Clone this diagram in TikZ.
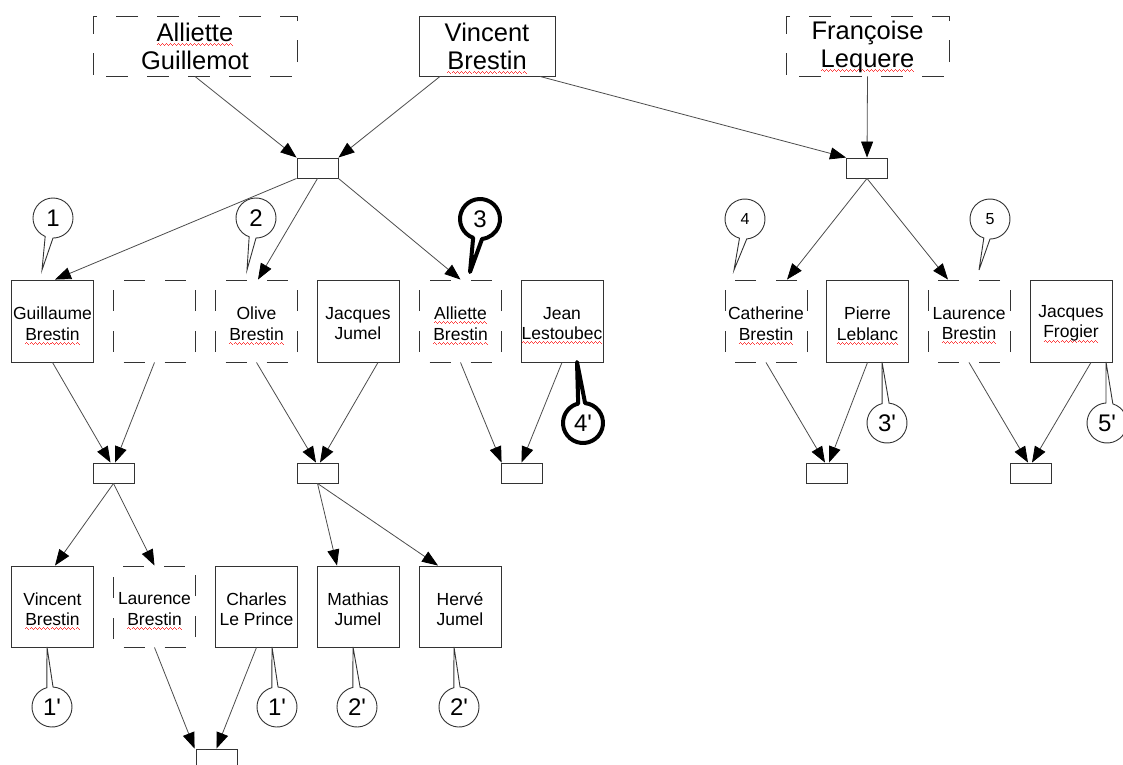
\documentclass[tikz,border=0pt]{standalone}
\usepackage{fontspec}
\setmainfont{Liberation Sans}
\newfontfamily\cofont{Liberation Sans}
\usetikzlibrary{arrows.meta,calc}
\newsavebox\wavebox
\newsavebox\sqwbox
\newcommand\sqw[1]{\sbox\sqwbox{#1}\rlap{\raisebox{-3.5pt}[0pt][0pt]{\hbox to \wd\sqwbox{\xleaders\copy\wavebox\hfil}}}\usebox\sqwbox}
\newcommand\calloutshape[6]{%
  \draw[#1] (#3) -- ($(#2)+(#4:20)$) arc[start angle=#4,end angle=#5,radius=20] -- cycle;
  \node[inner sep=0pt] at (#2) {#6};}
\begin{document}
\sbox\wavebox{\color{red!75}\rule[0pt]{1pt}{0.8pt}\rule[0.9pt]{1pt}{0.8pt}\rule[0pt]{1pt}{0.8pt}\rule[-0.9pt]{1pt}{0.8pt}}%
\begin{tikzpicture}[x=1pt,y=-1pt,
  ptext/.style={align=center,inner sep=0pt,font=\fontsize{17.5}{20.5}\selectfont,yshift=-2.5pt},
  ttext/.style={align=center,inner sep=0pt,font=\fontsize{25.5}{28}\selectfont,yshift=-0.5pt},
  person/.style={draw=black!80,line width=0.9pt,minimum width=82pt,minimum height=82pt,inner sep=0pt,
    label={[ptext]center:{#1}}},
  person/.default={},
  dperson/.style={person={#1},dash pattern=on 21pt off 20pt,dash phase=31pt},
  dperson/.default={},
  topbox/.style={draw=black!80,line width=0.9pt,minimum height=60pt,inner sep=0pt,
    label={[ttext]center:{#1}}},
  dtopbox/.style={topbox={#1},dash pattern=on 22pt off 19pt,dash phase=28pt},
  union/.style={draw=black!80,line width=0.9pt,minimum width=41pt,minimum height=20pt,inner sep=0pt},
  link/.style={draw=black!70,line width=0.8pt,-{Triangle[length=16pt,width=12pt,black]}},
  thin/.style={draw=black!80,line width=0.9pt,fill=white},
  thick/.style={draw=black,line width=4pt,fill=white,line join=round},
]
\useasboundingbox (0,0) rectangle (1123,764);

% top row
\node[dtopbox={\sqw{Alliette}\\Guillemot},minimum width=204pt] (ag) at (195,46) {};
\node[topbox={Vincent\\\sqw{Brestin}},minimum width=136pt] (vb) at (487,46) {};
\node[dtopbox={Françoise\\\sqw{Lequere}},minimum width=163pt] (fl) at (867.5,46) {};

% unions
\node[union] (u1) at (317.5,168) {};
\node[union] (u2) at (867,168) {};
\node[union] (u3) at (113.5,473) {};
\node[union] (u4) at (317.5,473) {};
\node[union] (u5) at (521.5,473) {};
\node[union] (u6) at (827,473) {};
\node[union] (u7) at (1030.5,473) {};
\node[union] (u8) at (216.5,759) {};

% row 2
\node[person={Guillaume\\\sqw{Brestin}}] (gb) at (52.5,321) {};
\node[dperson] (emp) at (154.5,321) {};
\node[dperson={Olive\\\sqw{Brestin}}] (ob) at (256.5,321) {};
\node[person={Jacques\\Jumel}] (jj) at (358,321) {};
\node[dperson={\sqw{Alliette}\\\sqw{Brestin}}] (ab) at (460.5,321) {};
\node[person={Jean\\\sqw{Lestoubec}}] (jl) at (562,321) {};
\node[dperson={Catherine\\\sqw{Brestin}}] (cb) at (766,321) {};
\node[person={Pierre\\\sqw{Leblanc}}] (pl) at (867.5,321) {};
\node[dperson={Laurence\\\sqw{Brestin}}] (lb) at (969,321) {};
\node[person={Jacques\\\sqw{Frogier}}] (jf) at (1071,321) {};

% row 4
\node[person={Vincent\\\sqw{Brestin}},minimum height=81pt] (vb2) at (52.5,606.5) {};
\node[dperson={Laurence\\\sqw{Brestin}},minimum height=81pt] (lb2) at (154.5,606.5) {};
\node[person={Charles\\Le Prince},minimum height=81pt] (clp) at (256.5,606.5) {};
\node[person={Mathias\\Jumel},minimum height=81pt] (mj) at (358,606.5) {};
\node[person={Hervé\\Jumel},minimum height=81pt] (hj) at (460,606.5) {};

% links
\draw[link] (ag.south) -- (u1.north west);
\draw[link] ([xshift=-47pt]vb.south) -- (u1.north east);
\draw[link] ([xshift=53pt]vb.south) -- (u2.north west);
\draw[link] (fl.south) -- (u2.north);
\draw[link] (u1.south west) -- ([xshift=2.5pt]gb.north);
\draw[link] (u1.south) -- ([xshift=1.5pt]ob.north);
\draw[link] (u1.south east) -- (ab.north);
\draw[link] (u2.south) -- ([xshift=21pt]cb.north);
\draw[link] (u2.south) -- ([xshift=-21pt]lb.north);
\draw[link] (gb.south) -- ([xshift=-3pt]u3.north);
\draw[link] (emp.south) -- ([xshift=1.5pt]u3.north);
\draw[link] (ob.south) -- ([xshift=-1.5pt]u4.north);
\draw[link] ([xshift=20pt]jj.south) -- ([xshift=2.5pt]u4.north);
\draw[link] (ab.south) -- ([xshift=1pt]u5.north west);
\draw[link] (jl.south) -- (u5.north);
\draw[link] (cb.south) -- ([xshift=-2pt]u6.north);
\draw[link] (pl.south) -- ([xshift=2pt]u6.north);
\draw[link] (lb.south) -- ([xshift=-2.5pt]u7.north);
\draw[link] ([xshift=20pt]jf.south) -- ([xshift=1.5pt]u7.north);
\draw[link] (u3.south) -- ([xshift=2.5pt]vb2.north);
\draw[link] (u3.south) -- (lb2.north);
\draw[link] (u4.south) -- ([xshift=-21pt]mj.north);
\draw[link] (u4.south) -- ([xshift=-22pt]hj.north);
\draw[link] (lb2.south) -- ([xshift=-1pt]u8.north west);
\draw[link] (clp.south) -- (u8.north);

% callout centres
\coordinate (k1) at (53,218);
\coordinate (k2) at (256,218);
\coordinate (k3) at (480,219);
\coordinate (k4) at (745,219);
\coordinate (k5) at (990,219);
\coordinate (k4p) at (583,423);
\coordinate (k3p) at (887,423);
\coordinate (k5p) at (1107,423);
\coordinate (k1a) at (52,707);
\coordinate (k1b) at (277,707);
\coordinate (k2a) at (357,707);
\coordinate (k2b) at (459,707);

\calloutshape{thin}{k1}{42,270}{113}{450}{\cofont\fontsize{24}{24}\selectfont 1}
\calloutshape{thin}{k2}{247,270}{110}{450}{\cofont\fontsize{24}{24}\selectfont 2}
\calloutshape{thick}{k3}{470,272}{110}{444}{\cofont\fontsize{24}{24}\selectfont 3}
\calloutshape{thin}{k4}{734,270}{106}{445}{\cofont\fontsize{16}{16}\selectfont 4}
\calloutshape{thin}{k5}{979,270}{108}{450}{\cofont\fontsize{16}{16}\selectfont 5}
\calloutshape{thick}{k4p}{577,362}{276}{616}{\cofont\fontsize{24}{24}\selectfont 4'}
\calloutshape{thin}{k3p}{882,362}{276}{616}{\cofont\fontsize{24}{24}\selectfont 3'}
\calloutshape{thin}{k5p}{1106,362}{287}{627}{\cofont\fontsize{24}{24}\selectfont 5'}
\calloutshape{thin}{k1a}{47,647}{273}{615}{\cofont\fontsize{24}{24}\selectfont 1'}
\calloutshape{thin}{k1b}{272,647}{273}{615}{\cofont\fontsize{24}{24}\selectfont 1'}
\calloutshape{thin}{k2a}{353,647}{279}{618}{\cofont\fontsize{24}{24}\selectfont 2'}
\calloutshape{thin}{k2b}{454,647}{273}{615}{\cofont\fontsize{24}{24}\selectfont 2'}
\end{tikzpicture}
\end{document}
